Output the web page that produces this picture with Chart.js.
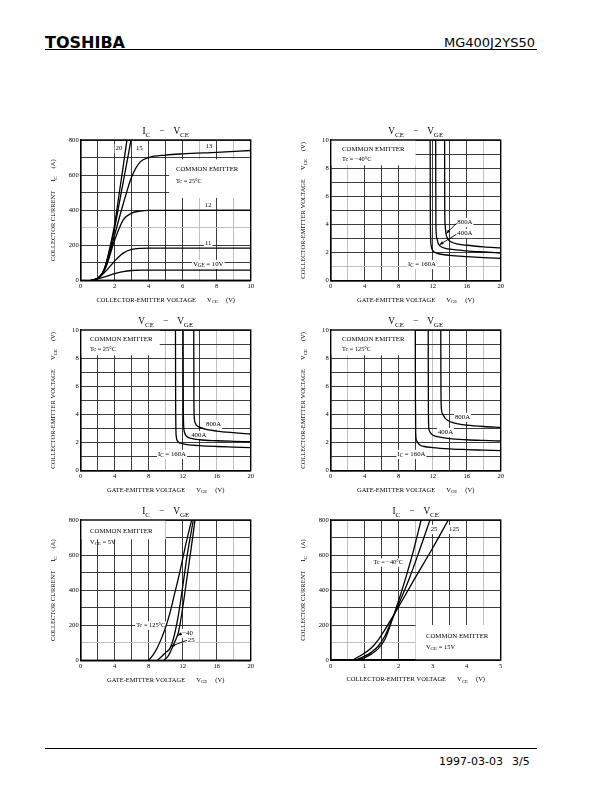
<!DOCTYPE html>
<html><head><meta charset="utf-8">
<script src="https://cdn.jsdelivr.net/npm/chart.js@4.4.1/dist/chart.umd.min.js"></script>
<style>
body{margin:0;width:612px;height:792px;background:#fff;position:relative;overflow:hidden;}
.t{position:absolute;color:#000;font-family:'DejaVu Sans',sans-serif;white-space:nowrap;}
.ln{position:absolute;height:0;border-top:1.3px solid #000;}
canvas{position:absolute;}
</style></head><body>
<div class="t" style="left:45px;top:33px;font-size:16px;font-weight:bold;">TOSHIBA</div>
<div class="t" style="left:444px;top:35px;font-size:13px;">MG400J2YS50</div>
<div class="ln" style="left:45px;top:49px;width:492px;"></div>
<div class="ln" style="left:45px;top:748px;width:492px;"></div>
<div class="t" style="left:439px;top:755px;font-size:11px;">1997-03-03</div>
<div class="t" style="left:512px;top:755px;font-size:11px;">3/5</div>

<canvas id="c1" width="230" height="190" style="left:40px;top:120px"></canvas>
<canvas id="c2" width="230" height="190" style="left:295px;top:120px"></canvas>
<canvas id="c3" width="230" height="190" style="left:40px;top:310px"></canvas>
<canvas id="c4" width="230" height="190" style="left:295px;top:310px"></canvas>
<canvas id="c5" width="230" height="190" style="left:40px;top:500px"></canvas>
<canvas id="c6" width="230" height="190" style="left:295px;top:500px"></canvas>

<script>
// ===== DATA =====
// Chart 1: IC - VCE, Tc = 25°C, one curve per VGE  [VCE (V), IC (A)]
const c1_VGE20 = [[0.6,0],[1.0,12],[1.3,45],[1.5,100],[1.75,200],[2.0,320],[2.25,485],[2.5,650],[2.72,800]];
const c1_VGE15 = [[0.6,0],[1.0,12],[1.3,44],[1.5,95],[1.75,190],[2.0,300],[2.25,430],[2.5,560],[2.75,690],[2.96,800]];
const c1_VGE13 = [[0.6,0],[1.0,11],[1.3,42],[1.5,88],[1.75,170],[2.0,260],[2.5,435],[3.0,590],[3.5,675],[4.0,700],[5.0,714],[6.0,721],[8.0,730],[10.0,740]];
const c1_VGE12 = [[0.6,0],[1.0,10],[1.3,40],[1.5,78],[2.0,230],[2.5,345],[3.0,383],[3.5,395],[4.0,399],[10.0,400]];
const c1_VGE11 = [[0.6,0],[1.0,10],[1.5,55],[2.0,110],[2.5,155],[3.0,176],[3.5,182],[4.0,183],[10.0,183]];
const c1_VGE10 = [[0.6,0],[1.0,8],[1.5,22],[2.0,38],[2.5,50],[3.0,56],[3.5,58],[10.0,58]];

// Chart 2: VCE - VGE, Tc = -40°C  [VGE (V), VCE (V)]
const c2_IC160 = [[11.7,10],[11.72,5],[11.76,3],[11.82,2.5],[11.95,2.2],[12.3,2.0],[13,1.88],[14,1.8],[16,1.71],[18,1.64],[20,1.59]];
const c2_IC400 = [[12.35,10],[12.37,5],[12.4,3.5],[12.5,3.0],[12.65,2.65],[13,2.42],[13.5,2.3],[14,2.24],[16,2.12],[18,2.04],[20,1.97]];
const c2_IC800 = [[13.4,10],[13.42,5],[13.46,4],[13.55,3.4],[13.75,3.0],[14.2,2.75],[15,2.6],[16,2.52],[18,2.41],[20,2.33]];

// Chart 3: VCE - VGE, Tc = 25°C
const c3_IC160 = [[11.15,10],[11.17,5],[11.2,3],[11.25,2.4],[11.4,2.1],[11.8,1.95],[12.5,1.86],[14,1.78],[16,1.72],[18,1.68],[20,1.64]];
const c3_IC400 = [[12.05,10],[12.07,5],[12.1,3.4],[12.2,2.75],[12.45,2.45],[13,2.3],[14,2.2],[16,2.13],[18,2.09],[20,2.06]];
const c3_IC800 = [[13.3,10],[13.32,5],[13.36,3.8],[13.5,3.35],[13.8,3.15],[14.5,2.98],[16,2.82],[18,2.7],[20,2.61]];

// Chart 4: VCE - VGE, Tc = 125°C
const c4_IC160 = [[9.95,10],[9.97,5],[10.0,2.7],[10.1,2.15],[10.5,1.82],[11,1.72],[12,1.64],[14,1.55],[16,1.5],[18,1.46],[20,1.42]];
const c4_IC400 = [[11.47,10],[11.49,5],[11.52,3.3],[11.6,2.85],[11.9,2.58],[12.3,2.46],[13,2.37],[14,2.28],[16,2.2],[18,2.15],[20,2.11]];
const c4_IC800 = [[12.95,10],[12.97,6],[13.0,4.6],[13.15,4.05],[13.5,3.7],[14.2,3.45],[15,3.33],[16,3.24],[18,3.14],[20,3.08]];

// Chart 5: IC - VGE, VCE = 5V  [VGE (V), IC (A)]
const c5_T125 = [[8.0,0],[8.5,30],[9.0,70],[9.5,125],[10.0,190],[10.5,270],[11.0,370],[11.5,470],[12.0,580],[12.5,690],[13.05,800]];
const c5_T25  = [[9.0,0],[9.5,20],[10.0,45],[10.5,68],[11.0,140],[11.5,260],[12.0,420],[12.5,590],[13.25,800]];
const c5_Tm40 = [[9.8,0],[10.3,25],[10.8,75],[11.2,120],[11.5,160],[12.0,300],[12.5,470],[13.0,640],[13.45,800]];

// Chart 6: IC - VCE, VGE = 15V  [VCE (V), IC (A)]
const c6_Tm40 = [[0.8,0],[1.0,14],[1.2,35],[1.4,65],[1.6,120],[1.8,225],[2.0,340],[2.2,465],[2.4,600],[2.66,800]];
const c6_T25  = [[0.72,0],[1.0,22],[1.2,45],[1.4,80],[1.6,140],[1.8,230],[2.0,320],[2.3,460],[2.6,620],[2.92,800]];
const c6_T125 = [[0.65,0],[1.0,40],[1.2,70],[1.4,115],[1.6,175],[1.8,240],[2.0,305],[2.5,475],[3.0,640],[3.46,800]];

// Axis ranges [min, max, grid step, label step]
const ax_VCE10 = [0,10,1,2];
const ax_VCE5  = [0,5,0.5,1];
const ax_VGE20 = [0,20,2,4];
const ax_IC800 = [0,800,100,200];
const ax_V10   = [0,10,1,2];

// ===== RENDERING =====
const SERIF = "'Liberation Serif','DejaVu Serif',serif";

function richDraw(ctx, items, x, y, size, align, bg) {
  const sub = size * 0.75;
  let w = 0;
  for (const it of items) {
    if (typeof it === 'number') w += it;
    else if (typeof it === 'string') { ctx.font = size + 'px ' + SERIF; w += ctx.measureText(it).width; }
    else { ctx.font = sub + 'px ' + SERIF; w += ctx.measureText(it.s).width; }
  }
  let cx = align === 'center' ? x - w / 2 : (align === 'right' ? x - w : x);
  if (bg) {
    ctx.fillStyle = '#fff';
    ctx.fillRect(cx - 1, y - size * 0.6, w + 2, size * 1.35);
  }
  ctx.fillStyle = '#000';
  ctx.textAlign = 'left';
  ctx.textBaseline = 'middle';
  for (const it of items) {
    if (typeof it === 'number') { cx += it; continue; }
    if (typeof it === 'string') {
      ctx.font = size + 'px ' + SERIF; ctx.fillText(it, cx, y); cx += ctx.measureText(it).width;
    } else {
      ctx.font = sub + 'px ' + SERIF; ctx.fillText(it.s, cx, y + size * 0.3); cx += ctx.measureText(it.s).width;
    }
  }
}

const deco = {
  id: 'deco',
  beforeDatasetsDraw(chart, args, o) {
    const { ctx, chartArea: a, scales: { x, y } } = chart;
    ctx.save();
    ctx.beginPath(); ctx.rect(a.left, a.top, a.right - a.left, a.bottom - a.top); ctx.clip();
    ctx.fillStyle = '#fff';
    for (const b of o.boxes || []) {
      const X0 = x.getPixelForValue(b[0]), X1 = x.getPixelForValue(b[1]);
      const Y0 = y.getPixelForValue(b[2]), Y1 = y.getPixelForValue(b[3]);
      ctx.fillRect(Math.min(X0, X1), Math.min(Y0, Y1), Math.abs(X1 - X0), Math.abs(Y1 - Y0));
    }
    for (const t of o.texts || []) {
      richDraw(ctx, t.t, x.getPixelForValue(t.x), y.getPixelForValue(t.y), t.size || 6.8, t.align || 'left', t.bg);
    }
    ctx.restore();
  },
  afterDatasetsDraw(chart, args, o) {
    const { ctx, chartArea: a, scales: { x, y } } = chart;
    ctx.save();
    ctx.strokeStyle = '#000'; ctx.fillStyle = '#000'; ctx.lineWidth = 0.9;
    for (const ar of o.arrows || []) {
      const X0 = x.getPixelForValue(ar[0]), Y0 = y.getPixelForValue(ar[1]);
      const X1 = x.getPixelForValue(ar[2]), Y1 = y.getPixelForValue(ar[3]);
      ctx.beginPath(); ctx.moveTo(X0, Y0); ctx.lineTo(X1, Y1); ctx.stroke();
      const ang = Math.atan2(Y1 - Y0, X1 - X0), L = 4, W = 1.6;
      ctx.beginPath();
      ctx.moveTo(X1, Y1);
      ctx.lineTo(X1 - L * Math.cos(ang) + W * Math.sin(ang), Y1 - L * Math.sin(ang) - W * Math.cos(ang));
      ctx.lineTo(X1 - L * Math.cos(ang) - W * Math.sin(ang), Y1 - L * Math.sin(ang) + W * Math.cos(ang));
      ctx.closePath(); ctx.fill();
    }
    ctx.lineWidth = 1.4;
    ctx.strokeRect(a.left, a.top, a.right - a.left, a.bottom - a.top);
    ctx.restore();
  },
  afterDraw(chart, args, o) {
    const { ctx, chartArea: a } = chart;
    ctx.save();
    const cxm = (a.left + a.right) / 2, cym = (a.top + a.bottom) / 2;
    richDraw(ctx, o.title, cxm, a.top - 8, 9.3, 'center');
    richDraw(ctx, o.xTitle, cxm, a.bottom + 19.5, 6.5, 'center');
    ctx.translate(a.left - 27, cym);
    ctx.rotate(-Math.PI / 2);
    richDraw(ctx, o.yTitle, 0, 0, 6.5, 'center');
    ctx.restore();
  }
};

function axis(r, light, fitKey, fitVal) {
  const [min, max, step, lab] = r;
  return {
    type: 'linear', min, max,
    afterFit: s => { s[fitKey] = fitVal; },
    ticks: {
      stepSize: step, autoSkip: false, maxRotation: 0, minRotation: 0, padding: 2, color: '#000',
      font: { family: SERIF, size: 6.6 },
      callback: v => (Math.abs(v / lab - Math.round(v / lab)) < 1e-6 ? String(Math.round(v * 100) / 100) : '')
    },
    grid: {
      drawTicks: false, lineWidth: 0.9,
      color: c => (light.some(l => Math.abs(l - c.tick.value) < 1e-6) ? '#b8b8b8' : '#262626')
    },
    border: { display: true, color: '#000', width: 1.4 }
  };
}

function make(id, area, xr, yr, xl, yl, curves, deco_o) {
  const W = 230, H = 190;
  new Chart(document.getElementById(id), {
    type: 'scatter',
    data: {
      datasets: curves.map(c => ({
        data: c.map(p => ({ x: p[0], y: p[1] })),
        showLine: true, borderColor: '#000', borderWidth: 1.3, pointRadius: 0,
        cubicInterpolationMode: 'monotone', fill: false
      }))
    },
    options: {
      responsive: false, animation: false, events: [],
      layout: { padding: { top: area[1], right: W - area[2], left: 0, bottom: 0 } },
      plugins: { legend: { display: false }, tooltip: { enabled: false }, deco: deco_o },
      scales: {
        x: axis(xr, xl, 'height', H - area[3]),
        y: axis(yr, yl, 'width', area[0])
      }
    },
    plugins: [deco]
  });
}

const T_IC_VCE = ['I', { s: 'C' }, 9, '\u2212', 9, 'V', { s: 'CE' }];
const T_VCE_VGE = ['V', { s: 'CE' }, 9, '\u2212', 9, 'V', { s: 'GE' }];
const T_IC_VGE = ['I', { s: 'C' }, 9, '\u2212', 9, 'V', { s: 'GE' }];
const X_CE = ['COLLECTOR-EMITTER VOLTAGE', 11, 'V', { s: 'CE' }, 8, '(V)'];
const X_GE = ['GATE-EMITTER VOLTAGE', 11, 'V', { s: 'GE' }, 8, '(V)'];
const Y_IC = ['COLLECTOR CURRENT', 9, 'I', { s: 'C' }, 8, '(A)'];
const Y_CE = ['COLLECTOR-EMITTER VOLTAGE', 9, 'V', { s: 'CE' }, 8, '(V)'];

make('c1', [40.7, 20, 210.7, 160.3], ax_VCE10, ax_IC800, [7, 9], [300],
  [c1_VGE20, c1_VGE15, c1_VGE13, c1_VGE12, c1_VGE11, c1_VGE10],
  { title: T_IC_VCE, xTitle: X_CE, yTitle: Y_IC,
    boxes: [[5.2, 10, 470, 690]],
    texts: [
      { x: 2.25, y: 752, t: ['20'], align: 'center', bg: true },
      { x: 3.45, y: 752, t: ['15'], align: 'center', bg: true },
      { x: 7.55, y: 762, t: ['13'], align: 'center', bg: true },
      { x: 7.5, y: 430, t: ['12'], align: 'center', bg: true },
      { x: 7.5, y: 210, t: ['11'], align: 'center', bg: true },
      { x: 7.5, y: 93, t: ['V', { s: 'GE' }, ' = 10V'], align: 'center', bg: true },
      { x: 5.6, y: 635, t: ['COMMON EMITTER'] },
      { x: 5.6, y: 566, t: ['Tc = 25\u00b0C'], size: 6.3 }
    ] });

make('c2', [35.7, 20, 205.7, 160.7], ax_VGE20, ax_V10, [2, 10, 18], [1],
  [c2_IC160, c2_IC400, c2_IC800],
  { title: T_VCE_VGE, xTitle: X_GE, yTitle: Y_CE,
    boxes: [[0, 10, 8.2, 10]],
    texts: [
      { x: 1.33, y: 9.36, t: ['COMMON EMITTER'] },
      { x: 1.33, y: 8.65, t: ['Tc = \u221240\u00b0C'], size: 6.3 },
      { x: 14.9, y: 4.17, t: ['800A'], bg: true },
      { x: 14.9, y: 3.39, t: ['400A'], bg: true },
      { x: 10.74, y: 1.19, t: ['I', { s: 'C' }, ' = 160A'], align: 'center', bg: true }
    ],
    arrows: [[14.8, 4.08, 13.6, 3.35], [14.8, 3.3, 12.8, 2.56]] });

make('c3', [40.7, 20, 210.7, 160.7], ax_VGE20, ax_V10, [10, 16, 18], [],
  [c3_IC160, c3_IC400, c3_IC800],
  { title: T_VCE_VGE, xTitle: X_GE, yTitle: Y_CE,
    boxes: [[0, 9.3, 8.2, 10]],
    texts: [
      { x: 1.09, y: 9.36, t: ['COMMON EMITTER'] },
      { x: 1.09, y: 8.65, t: ['Tc = 25\u00b0C'], size: 6.3 },
      { x: 14.74, y: 3.32, t: ['800A'], bg: true },
      { x: 13.0, y: 2.54, t: ['400A'], bg: true },
      { x: 10.74, y: 1.19, t: ['I', { s: 'C' }, ' = 160A'], align: 'center', bg: true }
    ] });

make('c4', [35.7, 20, 205.7, 160.7], ax_VGE20, ax_V10, [2, 12, 18], [],
  [c4_IC160, c4_IC400, c4_IC800],
  { title: T_VCE_VGE, xTitle: X_GE, yTitle: Y_CE,
    boxes: [[0, 9.9, 8.2, 10]],
    texts: [
      { x: 1.33, y: 9.36, t: ['COMMON EMITTER'] },
      { x: 1.33, y: 8.65, t: ['Tc = 125\u00b0C'], size: 6.3 },
      { x: 14.62, y: 3.83, t: ['800A'], bg: true },
      { x: 12.62, y: 2.75, t: ['400A'], bg: true },
      { x: 9.5, y: 1.19, t: ['I', { s: 'C' }, ' = 160A'], align: 'center', bg: true }
    ] });

make('c5', [40.7, 20, 210.7, 160.3], ax_VGE20, ax_IC800, [14, 18], [100],
  [c5_T125, c5_T25, c5_Tm40],
  { title: T_IC_VGE, xTitle: X_GE, yTitle: Y_IC,
    boxes: [[0, 10, 690, 800]],
    texts: [
      { x: 1.09, y: 737, t: ['COMMON EMITTER'] },
      { x: 1.09, y: 675, t: ['V', { s: 'CE' }, ' = 5V'], size: 6.5 },
      { x: 9.95, y: 201, t: ['Tc = 125\u00b0C'], align: 'right', size: 6.3, bg: true },
      { x: 11.95, y: 156, t: ['\u221240'], bg: true },
      { x: 12.6, y: 116, t: ['25'], bg: true }
    ],
    arrows: [[11.85, 152, 11.42, 142], [12.5, 114, 10.62, 80]] });

make('c6', [35.7, 20, 205.7, 160], ax_VCE5, ax_IC800, [0.5, 2.5, 4.5], [100],
  [c6_Tm40, c6_T25, c6_T125],
  { title: T_IC_VCE, xTitle: X_CE, yTitle: Y_IC,
    boxes: [[2.5, 5, 0, 200]],
    texts: [
      { x: 1.69, y: 560, t: ['Tc = \u221240\u00b0C'], align: 'center', size: 6.3, bg: true },
      { x: 3.04, y: 749, t: ['25'], align: 'center', bg: true },
      { x: 3.63, y: 749, t: ['125'], align: 'center', bg: true },
      { x: 2.8, y: 137, t: ['COMMON EMITTER'] },
      { x: 2.8, y: 74, t: ['V', { s: 'GE' }, ' = 15V'], size: 6.5 }
    ] });
</script>
</body></html>
